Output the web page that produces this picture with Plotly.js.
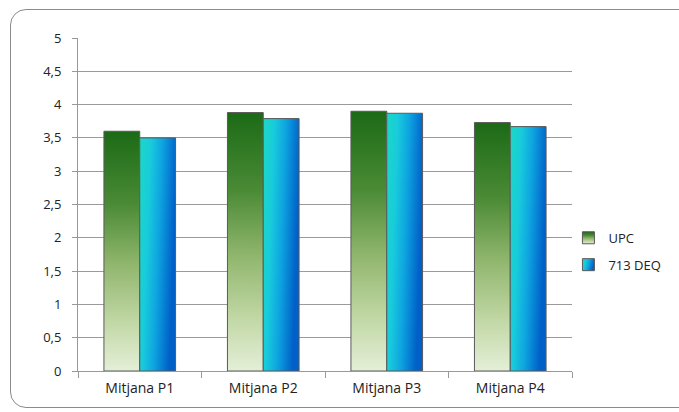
<!DOCTYPE html>
<html>
<head>
<meta charset="utf-8">
<script src="https://cdn.plot.ly/plotly-3.0.1.min.js"></script>
<style>
html,body{margin:0;padding:0;background:#fff;overflow:hidden;}
#frame{position:absolute;left:10px;top:9px;width:690px;height:399px;border:1.5px solid #8a8a8a;border-radius:16px;box-sizing:border-box;}
#chart{position:absolute;left:0;top:0;width:679px;height:412px;}
</style>
</head>
<body>
<div id="frame"></div>
<div id="chart"></div>
<script>
const categories = ["Mitjana P1", "Mitjana P2", "Mitjana P3", "Mitjana P4"];
const seriesNames = ["UPC", "713 DEQ"];
const upcValues = [3.6, 3.88, 3.9, 3.73];
const deqValues = [3.5, 3.79, 3.87, 3.67];
const yTickValues = [0, 0.5, 1, 1.5, 2, 2.5, 3, 3.5, 4, 4.5, 5];

const fontFam = "Open Sans, Lato, sans-serif";
const traces = [
  {type: "bar", name: seriesNames[0], legendgroup: "g1", x: categories, y: upcValues,
   marker: {color: "#6a9a45", line: {color: "#5a5a5a", width: 1}}},
  {type: "bar", name: seriesNames[1], legendgroup: "g2", x: categories, y: deqValues,
   marker: {color: "#14a8dc", line: {color: "#5a5a5a", width: 1}}}
];
const layout = {
  width: 679, height: 412,
  margin: {l: 78, r: 107, t: 38, b: 41},
  paper_bgcolor: "rgba(0,0,0,0)", plot_bgcolor: "#fff",
  separators: ", ",
  barmode: "group", bargap: 0.42, bargroupgap: 0,
  showlegend: true,
  legend: {xref: "container", yref: "container", x: 0.846, y: 0.39, xanchor: "left", yanchor: "middle",
           indentation: -6,
           font: {family: fontFam, size: 13, color: "#222"}, tracegroupgap: 7, itemwidth: 30},
  xaxis: {showline: true, linecolor: "#999", linewidth: 1, ticks: "outside", tickson: "boundaries",
          ticklen: 6, tickcolor: "#999", ticklabelstandoff: 4,
          tickfont: {family: fontFam, size: 14, color: "#222"},
          showgrid: false, fixedrange: true},
  yaxis: {range: [0, 5], tickvals: yTickValues, showline: true, linecolor: "#999", linewidth: 1,
          ticks: "outside", ticklen: 5, tickcolor: "#999", gridcolor: "#9a9a9a", gridwidth: 1,
          ticklabelstandoff: 8,
          tickfont: {family: fontFam, size: 13, color: "#222"}, zeroline: false, fixedrange: true}
};
Plotly.newPlot("chart", traces, layout, {staticPlot: true}).then(function(gd){
  const NS = "http://www.w3.org/2000/svg";
  const svg = gd.querySelector("svg.main-svg");
  const defs = document.createElementNS(NS, "defs");
  function grad(id, x2, y2, stops){
    const g = document.createElementNS(NS, "linearGradient");
    g.setAttribute("id", id); g.setAttribute("x1", "0"); g.setAttribute("y1", "0");
    g.setAttribute("x2", x2); g.setAttribute("y2", y2);
    stops.forEach(function(s){
      const st = document.createElementNS(NS, "stop");
      st.setAttribute("offset", s[0]); st.setAttribute("stop-color", s[1]);
      g.appendChild(st);
    });
    defs.appendChild(g);
  }
  grad("gUPC", "0", "1", [["0", "#1c6a16"], ["0.3", "#4a8a35"], ["0.55", "#8fb56c"], ["0.8", "#c2d8a6"], ["1", "#e4efd8"]]);
  grad("gDEQ", "1", "0.25", [["0", "#1cd8c4"], ["0.3", "#18cbdc"], ["0.6", "#0ea4e0"], ["1", "#0060c8"]]);
  svg.insertBefore(defs, svg.firstChild);
  const ids = ["gUPC", "gDEQ"];
  gd.querySelectorAll(".barlayer .trace.bars").forEach(function(t, i){
    t.querySelectorAll("path").forEach(function(p){ p.style.fill = "url(#" + ids[i] + ")"; });
  });
  gd.querySelectorAll(".legend .traces").forEach(function(t, i){
    t.querySelectorAll(".legendpoints path").forEach(function(p){ p.style.fill = "url(#" + ids[i] + ")"; });
  });
});
</script>
</body>
</html>
